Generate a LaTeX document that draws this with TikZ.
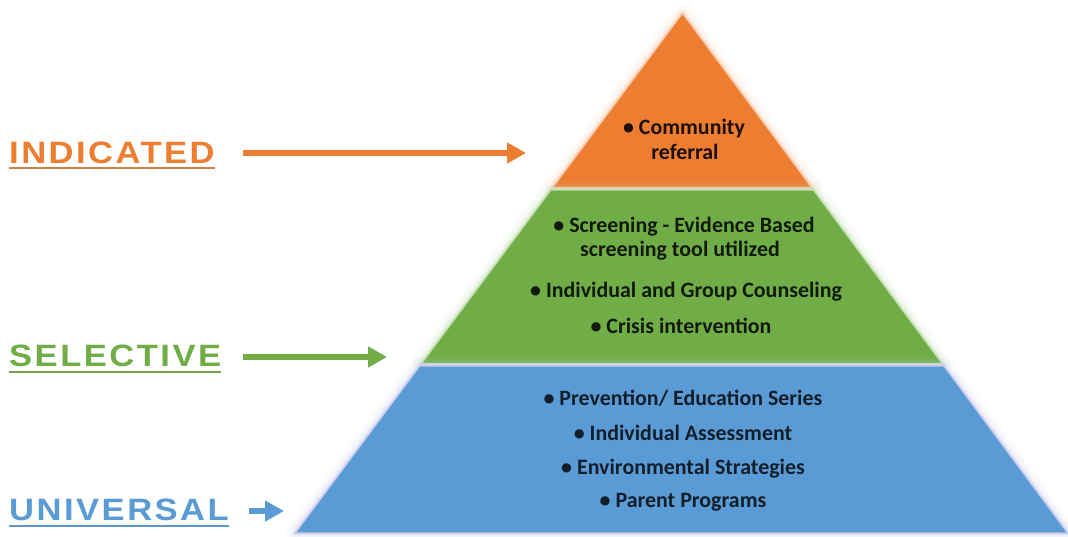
\documentclass[tikz,border=0pt]{standalone}
\usepackage{fontspec}
\setmainfont{Carlito}
\newfontfamily\tierlabelfont{Liberation Sans}[LetterSpace=8, FakeStretch=1.12]
\usetikzlibrary{arrows.meta}

\definecolor{indorange}{HTML}{ED7D31}
\definecolor{selgreen}{HTML}{70AD47}
\definecolor{unblue}{HTML}{5B9BD5}
\definecolor{orglow}{HTML}{F8CBAD}
\definecolor{grglow}{HTML}{C5E0B4}
\definecolor{blglow}{HTML}{C9CCEE}
\colorlet{ortext}{black!88!indorange}
\colorlet{grtext}{black!85!selgreen}
\colorlet{bltext}{black!80!unblue}

\tikzset{
  tiertext/.style={font=\bfseries\fontsize{22}{24}\selectfont, anchor=base, inner sep=0pt},
  tierlabel/.style={font=\tierlabelfont\bfseries\fontsize{31}{36}\selectfont, anchor=base west, inner sep=0pt},
  underline/.style={line width=2bp},
  pointer/.style={line width=6bp, -{Triangle[length=19bp,width=20bp]}},
  tieredge/.style={line width=1.5bp, line join=miter},
}

% a soft halo around a tier, drawn before its fill
\newcommand{\tierhalo}[2]{%
  \foreach \w/\o in {18/0.07, 12/0.10, 7/0.16, 4/0.25}{%
    \draw[draw=#1, line width=\w bp, opacity=\o, line join=round] #2;}%
}

\begin{document}
\begin{tikzpicture}[x=1bp, y=-1bp]
\useasboundingbox (0,0) rectangle (1068,537);
\fill[white] (0,0) rectangle (1068,537);

% ---- pyramid tiers ----
\def\toptier{(682.5,13) -- (812.2,188) -- (552.1,188) -- cycle}
\def\midtier{(550.6,190) -- (813.7,190) -- (942.6,364) -- (421.0,364) -- cycle}
\def\basetier{(419.5,366) -- (944.1,366) -- (1067.8,533) -- (295.1,533) -- cycle}

\tierhalo{orglow}{\toptier}
\fill[indorange] \toptier;
\draw[tieredge, draw=orglow] \toptier;

\tierhalo{grglow}{\midtier}
\fill[selgreen] \midtier;
\draw[tieredge, draw=grglow] \midtier;

\tierhalo{blglow}{\basetier}
\fill[unblue] \basetier;
\draw[tieredge, draw=blglow] \basetier;

% ---- tier contents ----
\node[tiertext, text=ortext] (comm1) at (684,135) {• Community};
\node[tiertext, text=ortext] (comm2) at (685,160) {referral};

\node[tiertext, text=grtext] (scr1) at (684,233) {• Screening - Evidence Based};
\node[tiertext, text=grtext] (scr2) at (680,257) {screening tool utilized};
\node[tiertext, text=grtext] (couns) at (686,298) {• Individual and Group Counseling};
\node[tiertext, text=grtext] (crisis) at (681,334) {• Crisis intervention};

\node[tiertext, text=bltext] (prev) at (683,405) {• Prevention/ Education Series};
\node[tiertext, text=bltext] (assess) at (683,440) {• Individual Assessment};
\node[tiertext, text=bltext] (env) at (683,474) {• Environmental Strategies};
\node[tiertext, text=bltext] (parent) at (683,507) {• Parent Programs};

% ---- level labels ----
\node[tierlabel, text=indorange] (ind) at (9,164) {INDICATED};
\node[tierlabel, text=selgreen] (sel) at (9,367) {SELECTIVE};
\node[tierlabel, text=unblue] (uni) at (9,520) {UNIVERSAL};

\draw[underline, draw=indorange!75!gray] ([yshift=-4.5bp]ind.base west) -- ([yshift=-4.5bp]ind.base east);
\draw[underline, draw=selgreen!75!gray] ([yshift=-5bp]sel.base west) -- ([yshift=-5bp]sel.base east);
\draw[underline, draw=unblue!85!gray] ([yshift=-6bp]uni.base west) -- ([yshift=-6bp]uni.base east);

% ---- pointers into the pyramid ----
\coordinate (indS) at (243,153);
\coordinate (indE) at (526,153);
\coordinate (selS) at (243,357);
\coordinate (selE) at (387,357);
\coordinate (uniS) at (249,511);
\coordinate (uniE) at (284,511);

\draw[pointer, draw=indorange, fill=indorange] (indS) -- (indE);
\draw[pointer, draw=selgreen, fill=selgreen] (selS) -- (selE);
\draw[pointer, draw=unblue, fill=unblue] (uniS) -- (uniE);
\end{tikzpicture}
\end{document}
